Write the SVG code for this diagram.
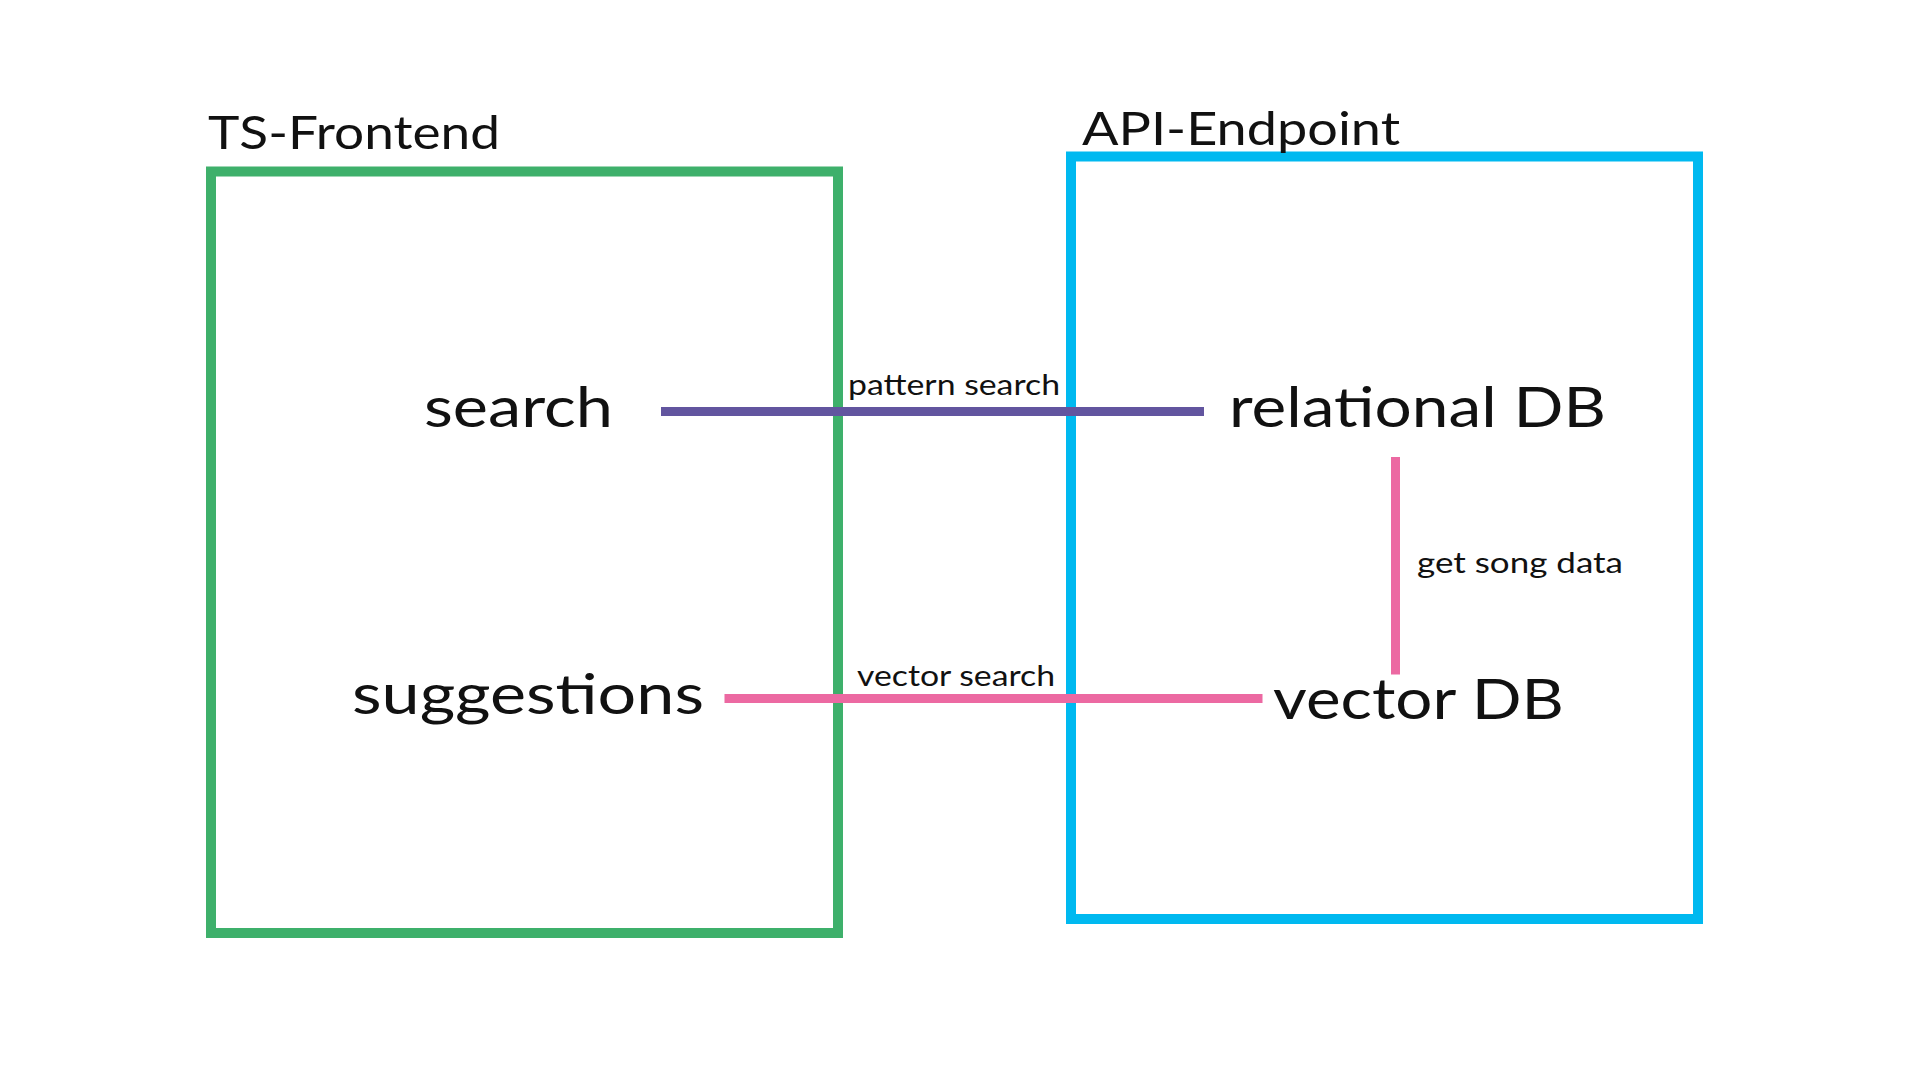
<svg xmlns="http://www.w3.org/2000/svg" width="1920" height="1080" viewBox="0 0 1920 1080">
<style>
.box{fill:none;stroke-width:10}
.t{font-family:Lato,"Noto Sans","Liberation Sans",sans-serif;fill:#111;font-weight:400}
.big{font-size:57px}
.title{font-size:47px}
.small{font-size:29px}
.c{fill:none;stroke-width:9;stroke-linecap:butt}
</style>
<rect width="1920" height="1080" fill="#ffffff"/>
<g id="ts-frontend">
<rect class="box" x="211" y="171.5" width="627" height="761.5" stroke="#3EB06B"/>
<text class="t title" x="208" y="149" textLength="292" lengthAdjust="spacingAndGlyphs">TS-Frontend</text>
</g>
<g id="api-endpoint">
<rect class="box" x="1071" y="156.5" width="627" height="762.5" stroke="#00B9F0"/>
<text class="t title" x="1082" y="145" textLength="318" lengthAdjust="spacingAndGlyphs">API-Endpoint</text>
</g>
<g id="connectors">
<line class="c" x1="661" y1="411.5" x2="1204" y2="411.5" stroke="#62559F"/>
<line class="c" x1="724.5" y1="698.5" x2="1262.5" y2="698.5" stroke="#EC69A2"/>
<line class="c" x1="1395.5" y1="457" x2="1395.5" y2="674.5" stroke="#EC69A2"/>
<text class="t small" x="848" y="395" textLength="212" lengthAdjust="spacingAndGlyphs">pattern search</text>
<text class="t small" x="857" y="686" textLength="198" lengthAdjust="spacingAndGlyphs">vector search</text>
<text class="t small" x="1417" y="573" textLength="206" lengthAdjust="spacingAndGlyphs">get song data</text>
</g>
<g id="search">
<text class="t big" x="424" y="427" textLength="189" lengthAdjust="spacingAndGlyphs">search</text>
</g>
<g id="suggestions">
<text class="t big" x="352" y="714" textLength="352" lengthAdjust="spacingAndGlyphs">suggestions</text>
</g>
<g id="relational-db">
<text class="t big" x="1229" y="427" textLength="377" lengthAdjust="spacingAndGlyphs">relational DB</text>
</g>
<g id="vector-db">
<text class="t big" x="1273" y="718.5" textLength="291" lengthAdjust="spacingAndGlyphs">vector DB</text>
</g>
</svg>
